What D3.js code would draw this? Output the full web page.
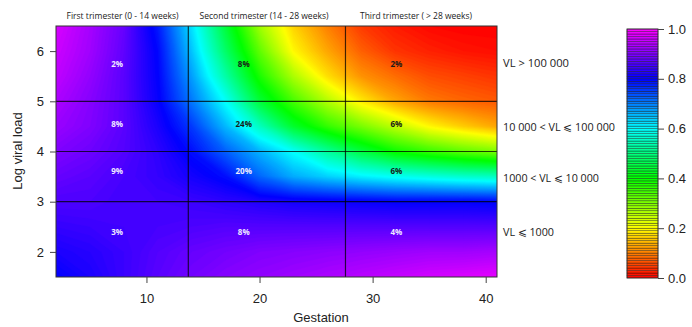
<!DOCTYPE html>
<html>
<head>
<meta charset="utf-8">
<script src="https://cdn.jsdelivr.net/npm/d3@7/dist/d3.min.js"></script>
<style>
  body { margin: 0; background: #fff; }
  svg { display: block; font-family: "Liberation Sans", Arial, sans-serif; }
  .note { font-family: "Open Sans", sans-serif; fill: #222; }
</style>
</head>
<body>
<svg id="chart" width="692" height="327"></svg>
<script>
// surface grid, rows go from logVL 1.5 (bottom) to 6.5 (top)
const gestation = [2, 5, 8, 11, 14, 17, 20, 23, 26, 29, 32, 35, 38, 41];
const logVL = [1.5, 2, 2.5, 3, 3.5, 4, 4.5, 5, 5.5, 6, 6.5];
const prob = [
  [0.80, 0.82, 0.845, 0.87, 0.89, 0.905, 0.915, 0.925, 0.935, 0.945, 0.955, 0.965, 0.972, 0.98],
  [0.82, 0.83, 0.845, 0.865, 0.88, 0.89, 0.90, 0.905, 0.91, 0.915, 0.92, 0.925, 0.925, 0.93],
  [0.84, 0.845, 0.85, 0.855, 0.86, 0.865, 0.865, 0.865, 0.865, 0.865, 0.865, 0.865, 0.865, 0.865],
  [0.86, 0.86, 0.85, 0.85, 0.845, 0.835, 0.825, 0.815, 0.81, 0.805, 0.80, 0.80, 0.80, 0.795],
  [0.88, 0.87, 0.855, 0.84, 0.815, 0.79, 0.72, 0.665, 0.635, 0.61, 0.59, 0.575, 0.56, 0.55],
  [0.90, 0.885, 0.865, 0.835, 0.79, 0.725, 0.66, 0.595, 0.52, 0.45, 0.39, 0.355, 0.325, 0.30],
  [0.92, 0.90, 0.87, 0.82, 0.755, 0.655, 0.55, 0.435, 0.36, 0.305, 0.25, 0.195, 0.16, 0.13],
  [0.935, 0.905, 0.87, 0.805, 0.705, 0.595, 0.445, 0.345, 0.26, 0.185, 0.13, 0.095, 0.08, 0.07],
  [0.95, 0.915, 0.87, 0.80, 0.675, 0.53, 0.38, 0.265, 0.175, 0.115, 0.085, 0.06, 0.05, 0.04],
  [0.96, 0.925, 0.875, 0.795, 0.645, 0.48, 0.325, 0.195, 0.13, 0.075, 0.04, 0.025, 0.015, 0.01],
  [0.97, 0.93, 0.88, 0.78, 0.62, 0.445, 0.275, 0.165, 0.10, 0.045, 0.02, 0.005, 0, 0]
];

const xTicks = [10, 20, 30, 40];
const yTicks = [2, 3, 4, 5, 6];
const barTicks = [0, 0.2, 0.4, 0.6, 0.8, 1.0];
const trimesterBreaks = [13.7, 27.6];
const vlBreaks = [3, 4, 5];
const trimesterLabels = ["First trimester (0 - 14 weeks)", "Second trimester (14 - 28 weeks)", "Third trimester ( > 28 weeks)"];
const vlLabels = ["VL \u2A7D 1000", "1000 < VL \u2A7D 10 000", "10 000 < VL \u2A7D 100 000", "VL > 100 000"];
// percentages per cell, rows bottom -> top, columns by trimester
const cellPct = [
  ["3%", "8%", "4%"],
  ["9%", "20%", "6%"],
  ["8%", "24%", "6%"],
  ["2%", "8%", "2%"]
];
const pctX = [7.4, 18.6, 32.1];
const pctY = [2.4, 3.6, 4.55, 5.74];

const svg = d3.select("#chart");
const m = { left: 56, right: 497, top: 26, bottom: 277 };

const x = d3.scaleLinear().domain([2, 41]).range([m.left, m.right]);
const y = d3.scaleLinear().domain([1.5, 6.5]).range([m.bottom, m.top]);
const color = v => d3.hsl(300 * Math.max(0, Math.min(1, v)), 1, 0.5).toString();

svg.append("clipPath").attr("id", "plotClip")
  .append("rect")
  .attr("x", m.left).attr("y", m.top)
  .attr("width", m.right - m.left).attr("height", m.bottom - m.top);

// filled contours of the surface
const nx = gestation.length, ny = logVL.length;
const dxStep = gestation[1] - gestation[0], dyStep = logVL[1] - logVL[0];
const values = prob.flat();
const step = 0.005;
const thresholds = d3.range(0, 1, step);
const contours = d3.contours().size([nx, ny]).thresholds(thresholds)(values);

const proj = d3.geoTransform({
  point: function (gx, gy) {
    this.stream.point(
      x(gestation[0] + (gx - 0.5) * dxStep),
      y(logVL[0] + (gy - 0.5) * dyStep)
    );
  }
});
const path = d3.geoPath(proj);

svg.append("g").attr("clip-path", "url(#plotClip)")
  .selectAll("path")
  .data(contours)
  .join("path")
  .attr("d", path)
  .attr("fill", d => color(d.value + step / 2))
  .attr("stroke", d => color(d.value + step / 2))
  .attr("stroke-width", 0.4);

// grid lines
const grid = svg.append("g").attr("stroke", "#000").attr("stroke-opacity", 0.75).attr("stroke-width", 1.2);
grid.selectAll(".vx").data(trimesterBreaks).join("line")
  .attr("x1", d => x(d)).attr("x2", d => x(d))
  .attr("y1", m.top).attr("y2", m.bottom);
grid.selectAll(".hy").data(vlBreaks).join("line")
  .attr("y1", d => y(d)).attr("y2", d => y(d))
  .attr("x1", m.left).attr("x2", m.right);

// box
svg.append("rect")
  .attr("x", m.left).attr("y", m.top)
  .attr("width", m.right - m.left).attr("height", m.bottom - m.top)
  .attr("fill", "none").attr("stroke", "#333").attr("stroke-width", 1);

// cell percentages
const pctData = [];
cellPct.forEach((row, r) => row.forEach((t, c) => pctData.push({ t, r, c })));
const darkText = new Set(["3-1", "2-1", "3-2", "2-2", "1-2"]);
svg.append("g")
  .selectAll("text")
  .data(pctData)
  .join("text")
  .attr("class", "note")
  .attr("x", d => x(pctX[d.c]))
  .attr("y", d => y(pctY[d.r]))
  .attr("dy", "0.35em")
  .attr("text-anchor", "middle")
  .attr("font-size", 8)
  .attr("font-weight", "bold")
  .style("fill", d => darkText.has(d.r + "-" + d.c) ? "#1a1a1a" : "#eee8ff")
  .text(d => d.t);

// axes
const xAxis = svg.append("g")
  .attr("transform", `translate(0,${m.bottom})`)
  .call(d3.axisBottom(x).tickValues(xTicks).tickSize(6).tickPadding(11).tickFormat(d3.format("d")));
xAxis.select(".domain").remove();
xAxis.selectAll("text").attr("font-size", 13).attr("fill", "#222").attr("font-family", "Liberation Sans, Arial, sans-serif");
xAxis.selectAll("line").attr("stroke", "#444");

const yAxis = svg.append("g")
  .attr("transform", `translate(${m.left},0)`)
  .call(d3.axisLeft(y).tickValues(yTicks).tickSize(6).tickPadding(6).tickFormat(d3.format("d")));
yAxis.select(".domain").remove();
yAxis.selectAll("text").attr("font-size", 13).attr("fill", "#222").attr("font-family", "Liberation Sans, Arial, sans-serif");
yAxis.selectAll("line").attr("stroke", "#444");

svg.append("text")
  .attr("transform", "translate(22,151) rotate(-90)")
  .attr("text-anchor", "middle")
  .attr("font-size", 13).attr("fill", "#222")
  .text("Log viral load");

svg.append("text")
  .attr("x", 321).attr("y", 322)
  .attr("text-anchor", "middle")
  .attr("font-size", 13).attr("fill", "#222")
  .text("Gestation");

// trimester titles
const titleX = [122.5, 264, 416];
const titleW = [112, 129, 112];
svg.append("g").selectAll("text")
  .data(trimesterLabels)
  .join("text")
  .attr("class", "note")
  .attr("x", (d, i) => titleX[i] - titleW[i] / 2)
  .attr("y", 19)
  .attr("font-size", 9.5)
  .attr("textLength", (d, i) => titleW[i])
  .attr("lengthAdjust", "spacingAndGlyphs")
  .text(d => d);

// viral load band labels
const vlY = [236, 182, 131, 67];
const vlW = [51, 96, 112, 66];
svg.append("g").selectAll("text")
  .data(vlLabels)
  .join("text")
  .attr("class", "note")
  .attr("x", 503)
  .attr("y", (d, i) => vlY[i])
  .attr("font-size", 11)
  .attr("textLength", (d, i) => vlW[i])
  .attr("lengthAdjust", "spacingAndGlyphs")
  .text(d => d);

// colour bar
const bar = { x: 627, w: 31, top: 29, bottom: 278 };
const cb = d3.scaleLinear().domain([0, 1]).range([bar.bottom, bar.top]);
const nStripes = 100;
svg.append("g").selectAll("rect")
  .data(d3.range(nStripes))
  .join("rect")
  .attr("x", bar.x)
  .attr("y", i => cb((i + 1) / nStripes))
  .attr("width", bar.w)
  .attr("height", cb(0) - cb(1 / nStripes))
  .attr("fill", i => color((i + 0.5) / nStripes))
  .attr("stroke", "rgba(0,0,0,0.65)")
  .attr("stroke-width", 0.5);
svg.append("rect")
  .attr("x", bar.x).attr("y", bar.top)
  .attr("width", bar.w).attr("height", bar.bottom - bar.top)
  .attr("fill", "none").attr("stroke", "#333").attr("stroke-width", 0.8);

const cAxis = svg.append("g")
  .attr("transform", `translate(${bar.x + bar.w},0)`)
  .call(d3.axisRight(cb).tickValues(barTicks).tickSize(6).tickPadding(4).tickFormat(d3.format(".1f")));
cAxis.select(".domain").remove();
cAxis.selectAll("text").attr("font-size", 13).attr("fill", "#222").attr("font-family", "Liberation Sans, Arial, sans-serif");
cAxis.selectAll("line").attr("stroke", "#444");
</script>
</body>
</html>
